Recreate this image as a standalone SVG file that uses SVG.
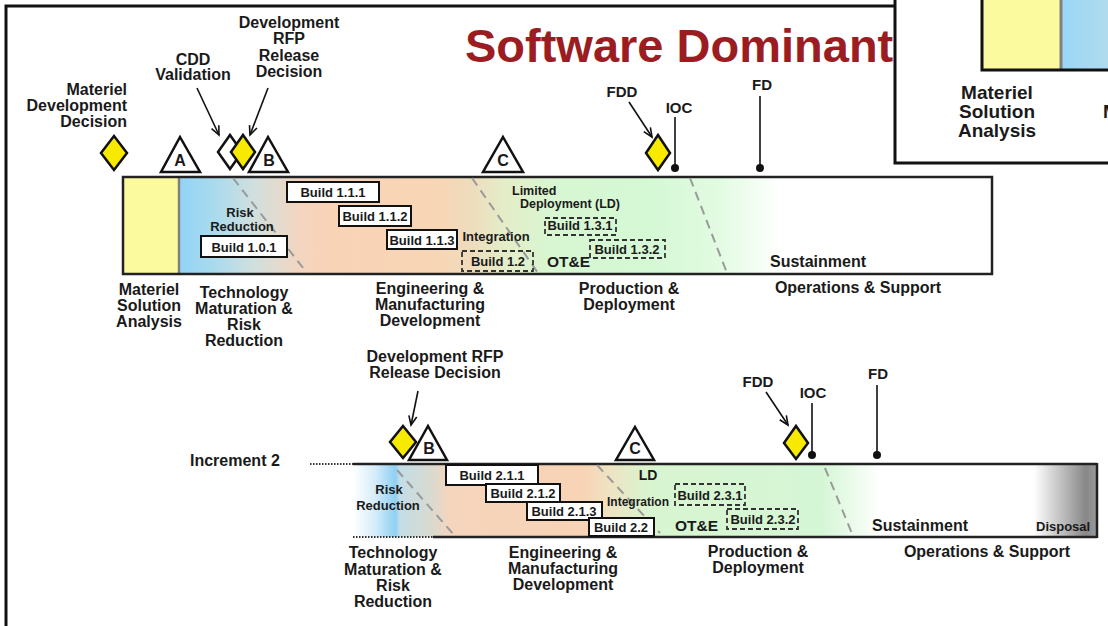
<svg xmlns="http://www.w3.org/2000/svg" width="1108" height="626" viewBox="0 0 1108 626">
<defs>
<style>
.t{font-family:"Liberation Sans",Arial,sans-serif;font-weight:bold;fill:#1a1a1a}
.c{text-anchor:middle}
.lbl{font-size:16px}
.bld{font-size:13px;text-anchor:middle}
.sm{font-size:13px}
.box{fill:#fff;stroke:#111;stroke-width:2}
.dbox{fill:none;stroke:#333;stroke-width:1.8;stroke-dasharray:5 3}
.ms{stroke:#111;stroke-width:2.5;stroke-linejoin:miter}
.yel{fill:#f7e900}
.wht{fill:#fff}
.diag{stroke:#9a9a9a;stroke-width:2;stroke-dasharray:9 6;fill:none}
.edge{stroke:#222;stroke-width:2.5;fill:none}
.dot{stroke:#333;stroke-width:2;stroke-dasharray:1.5 1.5;fill:none}
.conn{stroke:#111;stroke-width:1.6;fill:none}
</style>
<marker id="arr" markerUnits="userSpaceOnUse" markerWidth="12" markerHeight="12" refX="10" refY="5" orient="auto">
<path d="M1,1 L10,5 L1,9" fill="none" stroke="#111" stroke-width="1.6"/>
</marker>
<linearGradient id="g1" gradientUnits="userSpaceOnUse" x1="179" y1="0" x2="992" y2="0">
<stop offset="0" stop-color="#92d3f5"/>
<stop offset="0.045" stop-color="#aadbee"/>
<stop offset="0.09" stop-color="#cfdfdf"/>
<stop offset="0.12" stop-color="#e2dbcf"/>
<stop offset="0.15" stop-color="#f4d5bf"/>
<stop offset="0.19" stop-color="#f9d3b6"/>
<stop offset="0.32" stop-color="#f7d6b5"/>
<stop offset="0.36" stop-color="#eedcbd"/>
<stop offset="0.40" stop-color="#e4edc8"/>
<stop offset="0.46" stop-color="#d8f6d2"/>
<stop offset="0.58" stop-color="#d5f8d5"/>
<stop offset="0.665" stop-color="#e2fbe2"/>
<stop offset="0.74" stop-color="#ffffff"/>
<stop offset="1" stop-color="#ffffff"/>
</linearGradient>
<linearGradient id="g2" gradientUnits="userSpaceOnUse" x1="353" y1="0" x2="1097" y2="0">
<stop offset="0" stop-color="#ffffff"/>
<stop offset="0.03" stop-color="#d4ecf9"/>
<stop offset="0.057" stop-color="#8fd0f4"/>
<stop offset="0.063" stop-color="#c3dde6"/>
<stop offset="0.105" stop-color="#d9dad0"/>
<stop offset="0.13" stop-color="#f5d5bd"/>
<stop offset="0.31" stop-color="#f8d3b5"/>
<stop offset="0.345" stop-color="#eee3c2"/>
<stop offset="0.40" stop-color="#d8f5d0"/>
<stop offset="0.63" stop-color="#d5f6d5"/>
<stop offset="0.71" stop-color="#ffffff"/>
<stop offset="0.915" stop-color="#ffffff"/>
<stop offset="0.985" stop-color="#888888"/>
<stop offset="1" stop-color="#9a9a9a"/>
</linearGradient>
<linearGradient id="g3" gradientUnits="userSpaceOnUse" x1="1061" y1="0" x2="1160" y2="0">
<stop offset="0" stop-color="#9ad7f6"/>
<stop offset="1" stop-color="#c8dfe6"/>
</linearGradient>
</defs>

<rect x="0" y="0" width="1108" height="626" fill="#fff"/>

<g id="frame">
<path d="M6,630 L6,6 L895,6" fill="none" stroke="#111" stroke-width="3"/>
</g>

<g id="title">
<text x="465" y="62" font-family="Liberation Sans, Arial, sans-serif" font-weight="bold" font-size="47" fill="#9c1d21">Software Dominant</text>
</g>

<g id="inset">
<rect x="895" y="-10" width="230" height="173" fill="#fff" stroke="#111" stroke-width="3"/>
<rect x="982" y="-10" width="79" height="80" fill="#fcfa9e"/>
<rect x="1061" y="-10" width="60" height="80" fill="url(#g3)"/>
<line x1="1061" y1="-10" x2="1061" y2="70" stroke="#808080" stroke-width="3"/>
<rect x="982" y="-10" width="200" height="80" fill="none" stroke="#111" stroke-width="3"/>
<text class="t c" font-size="19" x="997" y="99">Materiel</text>
<text class="t c" font-size="19" x="997" y="118">Solution</text>
<text class="t c" font-size="19" x="997" y="137">Analysis</text>
<text class="t" font-size="19" x="1103" y="118">M</text>
</g>

<!-- Increment 1 bar -->
<g id="bar1">
<rect x="123" y="177" width="56" height="97" fill="#fcfa9e"/>
<rect x="179" y="177" width="813" height="97" fill="url(#g1)"/>
<line x1="179" y1="177" x2="179" y2="274" stroke="#808080" stroke-width="2.5"/>
<rect x="123" y="177" width="869" height="97" class="edge"/>
<line class="diag" x1="233" y1="178" x2="307" y2="273"/>
<line class="diag" x1="472" y1="178" x2="538" y2="273"/>
<line class="diag" x1="690" y1="178" x2="727" y2="273"/>
<text class="t c sm" x="240" y="217">Risk</text>
<text class="t c sm" x="242" y="231">Reduction</text>
<text class="t c sm" x="496" y="241">Integration</text>
<text class="t" font-size="12.5" x="512" y="195">Limited</text>
<text class="t" font-size="12.5" x="520" y="208">Deployment (LD)</text>
<text class="t" font-size="15.5" x="547" y="267">OT&amp;E</text>
<text class="t lbl" x="770" y="267">Sustainment</text>
</g>

<g id="b101"><rect class="box" x="201" y="236" width="86" height="21"/><text class="t bld" x="244" y="252">Build 1.0.1</text></g>
<g id="b111"><rect class="box" x="287" y="182" width="92" height="20"/><text class="t bld" x="333" y="197">Build 1.1.1</text></g>
<g id="b112"><rect class="box" x="339" y="206" width="72" height="20"/><text class="t bld" x="375" y="221">Build 1.1.2</text></g>
<g id="b113"><rect class="box" x="387" y="230" width="70" height="19"/><text class="t bld" x="422" y="245">Build 1.1.3</text></g>
<g id="b12"><rect class="dbox" x="462" y="251" width="71" height="20"/><text class="t bld" x="498" y="266">Build 1.2</text></g>
<g id="b131"><rect class="dbox" x="545" y="218" width="71" height="17"/><text class="t bld" x="580" y="230">Build 1.3.1</text></g>
<g id="b132"><rect class="dbox" x="590" y="240" width="75" height="18"/><text class="t bld" x="627" y="254">Build 1.3.2</text></g>

<g id="phases1">
<text class="t c lbl" x="149" y="295">Materiel</text>
<text class="t c lbl" x="149" y="311">Solution</text>
<text class="t c lbl" x="149" y="327">Analysis</text>
<text class="t c lbl" x="244" y="298">Technology</text>
<text class="t c lbl" x="244" y="314">Maturation &amp;</text>
<text class="t c lbl" x="244" y="330">Risk</text>
<text class="t c lbl" x="244" y="346">Reduction</text>
<text class="t c lbl" x="430" y="294">Engineering &amp;</text>
<text class="t c lbl" x="430" y="310">Manufacturing</text>
<text class="t c lbl" x="430" y="326">Development</text>
<text class="t c lbl" x="629" y="294">Production &amp;</text>
<text class="t c lbl" x="629" y="310">Deployment</text>
<text class="t c lbl" x="858" y="293">Operations &amp; Support</text>
</g>

<g id="mdd">
<polygon class="ms yel" points="114,136 127,153 114,170 101,153"/>
<text class="t lbl" text-anchor="end" x="127" y="95">Materiel</text>
<text class="t lbl" text-anchor="end" x="127" y="111">Development</text>
<text class="t lbl" text-anchor="end" x="127" y="127">Decision</text>
</g>
<g id="msA">
<polygon class="ms wht" points="180,137 200,172 161,172"/>
<text class="t c lbl" x="180" y="166">A</text>
</g>
<g id="cdd">
<polygon class="ms wht" points="230,135 242,152 230,169 218,152"/>
<text class="t c lbl" x="193" y="65">CDD</text>
<text class="t c lbl" x="193" y="80">Validation</text>
</g>
<g id="rfp1">
<polygon class="ms yel" points="243,135 255,152 243,169 231,152"/>
<text class="t c lbl" x="289" y="28">Development</text>
<text class="t c lbl" x="289" y="44">RFP</text>
<text class="t c lbl" x="289" y="61">Release</text>
<text class="t c lbl" x="289" y="77">Decision</text>
</g>
<g id="msB1">
<polygon class="ms wht" points="268,137 288,172 249,172"/>
<text class="t c lbl" x="269" y="166">B</text>
</g>
<g id="msC1">
<polygon class="ms wht" points="503,137 523,172 483,172"/>
<text class="t c lbl" x="503" y="166">C</text>
</g>
<g id="fdd1">
<polygon class="ms yel" points="658,135 670,153 658,170 646,153"/>
<text class="t c" font-size="15" x="622" y="97">FDD</text>
</g>
<g id="ioc1"><text class="t c" font-size="15" x="679" y="113">IOC</text></g>
<g id="fd1"><text class="t c" font-size="15" x="762" y="90">FD</text></g>

<!-- Increment 2 bar -->
<g id="bar2">
<text class="t lbl" x="190" y="466">Increment 2</text>
<rect x="353" y="464" width="744" height="73" fill="url(#g2)"/>
<line class="dot" x1="310" y1="464" x2="353" y2="464"/>
<line class="edge" x1="353" y1="464" x2="1097" y2="464"/>
<line class="dot" x1="353" y1="537" x2="433" y2="537"/>
<line class="edge" x1="433" y1="537" x2="1097" y2="537"/>
<line class="edge" x1="1097" y1="463" x2="1097" y2="538"/>
<line class="diag" x1="397" y1="470" x2="455" y2="536"/>
<line class="diag" x1="597" y1="465" x2="660" y2="533"/>
<line class="diag" x1="825" y1="468" x2="853" y2="536"/>
<text class="t c sm" x="389" y="494">Risk</text>
<text class="t c sm" x="388" y="510">Reduction</text>
<text class="t c" font-size="14" x="648" y="480">LD</text>
<text class="t c" font-size="12" x="638" y="506" fill="#333">Integration</text>
<text class="t" font-size="15.5" x="675" y="531">OT&amp;E</text>
<text class="t lbl" x="872" y="531">Sustainment</text>
<text class="t sm" x="1036" y="531">Disposal</text>
</g>

<g id="b211"><rect class="box" x="446" y="465" width="92" height="20"/><text class="t bld" x="492" y="480">Build 2.1.1</text></g>
<g id="b212"><rect class="box" x="486" y="484" width="74" height="18"/><text class="t bld" x="523" y="498">Build 2.1.2</text></g>
<g id="b213"><rect class="box" x="527" y="502" width="75" height="18"/><text class="t bld" x="564" y="516">Build 2.1.3</text></g>
<g id="b22"><rect class="box" x="589" y="518" width="65" height="18"/><text class="t bld" x="621" y="532">Build 2.2</text></g>
<g id="b231"><rect class="dbox" x="675" y="484" width="70" height="21"/><text class="t bld" x="710" y="500">Build 2.3.1</text></g>
<g id="b232"><rect class="dbox" x="727" y="509" width="71" height="20"/><text class="t bld" x="763" y="524">Build 2.3.2</text></g>

<g id="phases2">
<text class="t c lbl" x="393" y="558">Technology</text>
<text class="t c lbl" x="393" y="574.5">Maturation &amp;</text>
<text class="t c lbl" x="393" y="591">Risk</text>
<text class="t c lbl" x="393" y="607">Reduction</text>
<text class="t c lbl" x="563" y="558">Engineering &amp;</text>
<text class="t c lbl" x="563" y="574">Manufacturing</text>
<text class="t c lbl" x="563" y="590">Development</text>
<text class="t c lbl" x="758" y="557">Production &amp;</text>
<text class="t c lbl" x="758" y="573">Deployment</text>
<text class="t c lbl" x="987" y="557">Operations &amp; Support</text>
</g>

<g id="rfp2">
<polygon class="ms yel" points="403,426 416,442 403,458 390,442"/>
<text class="t c lbl" x="435" y="362">Development RFP</text>
<text class="t c lbl" x="435" y="378">Release Decision</text>
</g>
<g id="msB2">
<polygon class="ms wht" points="428,426 447,460 409,460"/>
<text class="t c lbl" x="429" y="454">B</text>
</g>
<g id="msC2">
<polygon class="ms wht" points="635,427 654,460 616,460"/>
<text class="t c lbl" x="635" y="454">C</text>
</g>
<g id="fdd2">
<polygon class="ms yel" points="796,426 808,443 796,459 784,443"/>
<text class="t c" font-size="15" x="758" y="387">FDD</text>
</g>
<g id="ioc2"><text class="t c" font-size="15" x="813" y="398">IOC</text></g>
<g id="fd2"><text class="t c" font-size="15" x="878" y="379">FD</text></g>

<g id="connectors">
<line class="conn" x1="197" y1="88" x2="219" y2="135" marker-end="url(#arr)"/>
<line class="conn" x1="268" y1="88" x2="250" y2="135" marker-end="url(#arr)"/>
<line class="conn" x1="629" y1="102" x2="652" y2="137" marker-end="url(#arr)"/>
<line class="conn" x1="675" y1="117" x2="675" y2="168"/>
<circle cx="675" cy="168" r="4" fill="#111"/>
<line class="conn" x1="760" y1="96" x2="760" y2="168"/>
<circle cx="760" cy="168" r="4" fill="#111"/>
<line class="conn" x1="418" y1="391" x2="411" y2="425" marker-end="url(#arr)"/>
<line class="conn" x1="766" y1="392" x2="788" y2="425" marker-end="url(#arr)"/>
<line class="conn" x1="812" y1="403" x2="812" y2="455"/>
<circle cx="812" cy="455" r="4" fill="#111"/>
<line class="conn" x1="877" y1="385" x2="877" y2="455"/>
<circle cx="877" cy="455" r="4" fill="#111"/>
</g>
</svg>
